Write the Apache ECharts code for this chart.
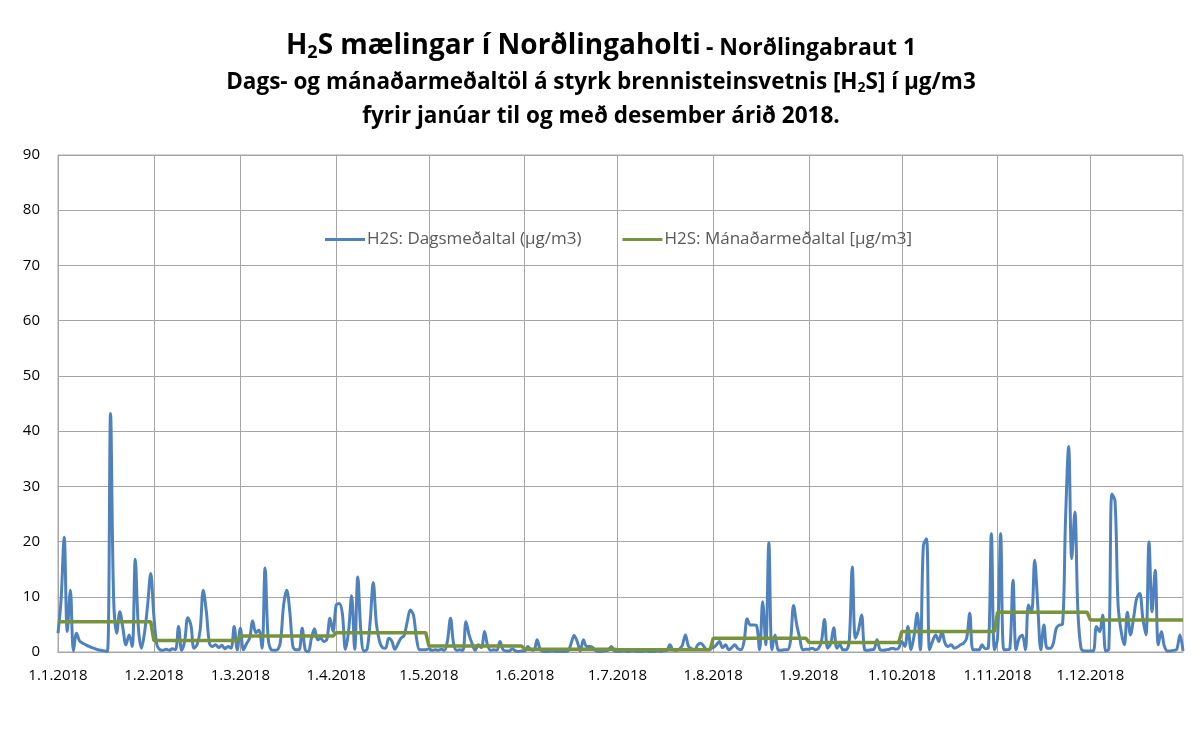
<!DOCTYPE html>
<html>
<head>
<meta charset="utf-8">
<script src="https://cdn.jsdelivr.net/npm/echarts@6/dist/echarts.min.js"></script>
<style>
  html, body { margin: 0; padding: 0; background: #fff; }
  #chart { width: 1202px; height: 744px; }
</style>
</head>
<body>
<div id="chart"></div>
<script>
// daglegt meðaltal H2S, µg/m3 (lesið af mynd)
const jan = [3.4, 9.5, 20.8, 3.7, 11.2, 0.2, 3.4, 2.0, 1.6, 1.3, 1.0, 0.8, 0.6, 0.4, 0.3, 0.2, 0.1, 43.2, 9.7, 3.4, 7.3, 4.3, 1.3, 3.1, 1.0, 16.8, 4.5, 0.7, 3.5, 8.5, 14.2];
const feb = [6.7, 1.3, 0.4, 0.3, 0.5, 0.3, 0.6, 0.4, 4.6, 0.3, 2.0, 6.2, 4.9, 0.7, 1.3, 4.0, 11.2, 7.3, 1.6, 1.0, 1.3, 0.8, 1.2, 0.6, 1.0, 0.7, 4.6, 0.4];
const mar = [4.3, 0.4, 1.5, 2.5, 5.6, 3.5, 4.0, 0.7, 15.2, 2.5, 0.4, 0.3, 0.4, 2.0, 8.5, 11.2, 7.3, 1.0, 0.4, 0.4, 4.3, 0.4, 0.1, 2.5, 4.2, 2.2, 2.5, 1.9, 2.3, 6.1, 3.7];
const apr = [8.5, 8.8, 7.0, 0.5, 3.7, 10.2, 0.5, 13.6, 3.7, 0.2, 0.5, 5.5, 12.6, 5.2, 2.0, 0.8, 0.7, 2.5, 2.0, 0.5, 1.5, 2.5, 3.0, 5.5, 7.6, 6.7, 2.5, 0.4, 0.4, 0.4];
const may = [0.6, 0.3, 0.4, 0.3, 0.5, 0.3, 2.0, 6.1, 1.5, 0.3, 0.4, 0.3, 5.5, 3.1, 1.5, 0.3, 1.3, 0.8, 3.7, 1.2, 0.3, 0.4, 0.3, 1.9, 0.4, 0.2, 0.2, 0.6, 0.2, 0.1, 0.2];
const jun = [0.2, 1.0, 0.4, 0.3, 2.2, 0.5, 0.1, 0.1, 0.1, 0.2, 0.1, 0.1, 0.1, 0.1, 0.2, 1.5, 3.0, 1.9, 0.2, 2.2, 1.0, 1.0, 0.8, 0.2, 0.1, 0.1, 0.2, 0.3, 1.0, 0.2];
const jul = [0.1, 0.1, 0.2, 0.1, 0.1, 0.2, 0.1, 0.1, 0.1, 0.2, 0.1, 0.1, 0.1, 0.2, 0.1, 0.2, 0.3, 1.3, 0.4, 0.3, 0.5, 1.2, 3.1, 1.0, 0.6, 0.4, 1.3, 1.6, 1.0, 0.4, 0.6];
const aug = [0.8, 1.3, 1.9, 0.8, 1.3, 0.4, 0.8, 1.3, 0.6, 0.4, 2.0, 6.0, 4.9, 4.9, 4.8, 0.4, 9.1, 1.3, 19.8, 0.4, 3.1, 0.4, 0.3, 0.4, 0.4, 2.0, 8.4, 5.0, 2.5, 0.4, 0.5];
const sep = [0.5, 0.7, 0.4, 0.6, 1.9, 5.9, 0.7, 1.5, 4.4, 0.7, 1.3, 0.4, 0.4, 1.9, 15.4, 2.5, 4.0, 6.7, 0.4, 0.3, 0.4, 0.5, 2.2, 0.4, 0.3, 0.4, 0.5, 0.7, 0.5, 0.7];
const oct = [1.9, 1.0, 4.6, 0.4, 3.0, 7.0, 0.4, 19.3, 20.5, 0.4, 2.0, 3.1, 1.9, 3.7, 1.6, 1.0, 1.3, 0.7, 0.9, 1.3, 1.6, 2.5, 7.0, 0.4, 0.4, 0.4, 1.3, 0.6, 0.7, 21.4, 0.4];
const nov = [2.5, 21.4, 0.4, 0.4, 0.6, 13.0, 0.4, 2.5, 3.1, 0.4, 8.5, 7.3, 16.6, 8.5, 0.4, 4.9, 0.7, 0.7, 1.5, 4.3, 4.9, 5.0, 24.1, 37.2, 16.9, 25.3, 7.3, 0.7, 0.2, 0.2];
const dec = [0.2, 0.2, 4.6, 3.7, 6.7, 0.2, 0.5, 28.6, 27.4, 8.5, 3.7, 1.3, 7.2, 3.1, 6.1, 9.7, 10.6, 6.1, 3.1, 19.9, 7.3, 14.8, 1.3, 3.7, 1.0, 0.2, 0.2, 0.3, 0.5, 3.1, 0.2];

// mánaðarmeðaltöl
const monthAvg = [5.5, 2.1, 2.9, 3.5, 1.1, 0.5, 0.4, 2.5, 1.7, 3.7, 7.2, 5.8];

const months = [jan, feb, mar, apr, may, jun, jul, aug, sep, oct, nov, dec];
const seriesNames = ['H2S: Dagsmeðaltal (µg/m3)', 'H2S: Mánaðarmeðaltal [µg/m3]'];

// dagsetningar d.m.2018
const dates = [];
const daily = [];
const monthly = [];
months.forEach((m, mi) => {
    m.forEach((v, di) => {
        dates.push((di + 1) + '.' + (mi + 1) + '.2018');
        daily.push(v);
        monthly.push(monthAvg[mi]);
    });
});

const isMonthStart = (idx, val) => val.indexOf('1.') === 0;

const chart = echarts.init(document.getElementById('chart'));
const font = '"Open Sans", "Noto Sans", sans-serif';

chart.setOption({
    backgroundColor: '#fff',
    animation: false,
    title: [
        {
            text: '{a|H}{s|2}{a|S mælingar í Norðlingaholti} {b|- Norðlingabraut 1}',
            left: 'center',
            top: 25,
            textStyle: {
                rich: {
                    a: { fontFamily: font, fontWeight: 'bold', fontSize: 28, color: '#000' },
                    s: { fontFamily: font, fontWeight: 'bold', fontSize: 18, color: '#000', padding: [14, 0, 0, 0] },
                    b: { fontFamily: font, fontWeight: 'bold', fontSize: 23, color: '#000', padding: [5, 0, 0, 0] }
                }
            }
        },
        {
            text: '{a|Dags- og mánaðarmeðaltöl á styrk brennisteinsvetnis [H}{s|2}{a|S] í µg/m3}',
            left: 'center',
            top: 65,
            textStyle: {
                rich: {
                    a: { fontFamily: font, fontWeight: 'bold', fontSize: 22.5, color: '#000' },
                    s: { fontFamily: font, fontWeight: 'bold', fontSize: 14, color: '#000', padding: [11, 0, 0, 0] }
                }
            }
        },
        {
            text: 'fyrir janúar til og með desember árið 2018.',
            left: 'center',
            top: 100,
            textStyle: { fontFamily: font, fontWeight: 'bold', fontSize: 22.5, color: '#000' }
        }
    ],
    legend: {
        top: 226,
        left: 320,
        icon: 'rect',
        itemWidth: 40,
        itemHeight: 3,
        itemGap: 41,
        textStyle: { fontFamily: font, fontSize: 17, color: '#595959', padding: [0, 0, 0, -3] },
        data: seriesNames
    },
    grid: {
        left: 58,
        right: 19,
        top: 155,
        bottom: 92,
        show: true,
        borderColor: '#a6a6a6',
        borderWidth: 1
    },
    xAxis: {
        type: 'category',
        data: dates,
        boundaryGap: false,
        axisLine: { lineStyle: { color: '#a6a6a6' } },
        axisTick: { show: false },
        axisLabel: {
            interval: isMonthStart,
            margin: 16,
            fontFamily: font,
            fontSize: 15,
            color: '#000'
        },
        splitLine: {
            show: true,
            interval: isMonthStart,
            lineStyle: { color: '#a6a6a6', width: 1 }
        }
    },
    yAxis: {
        type: 'value',
        min: 0,
        max: 90,
        interval: 10,
        axisLine: { show: true, lineStyle: { color: '#a6a6a6' } },
        axisTick: { show: false },
        axisLabel: { margin: 18, fontFamily: font, fontSize: 15, color: '#000' },
        splitLine: { lineStyle: { color: '#a6a6a6', width: 1 } }
    },
    series: [
        {
            name: seriesNames[0],
            type: 'line',
            data: daily,
            symbol: 'none',
            smooth: 0.35,
            lineStyle: { color: '#4F81BD', width: 3 },
            itemStyle: { color: '#4F81BD' },
            z: 2
        },
        {
            name: seriesNames[1],
            type: 'line',
            data: monthly,
            symbol: 'none',
            lineStyle: { color: '#77933C', width: 3.5 },
            itemStyle: { color: '#77933C' },
            z: 3
        }
    ]
});
</script>
</body>
</html>
